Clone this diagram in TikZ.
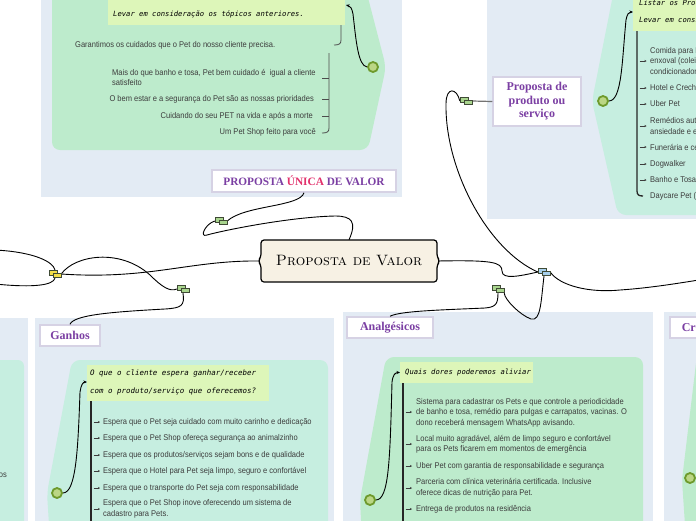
\documentclass[tikz,border=0pt]{standalone}
\usepackage{fontspec}
\usetikzlibrary{arrows.meta}
\newfontfamily\bodyf[FakeStretch=0.9]{Liberation Sans}
\newfontfamily\handf{DejaVu Sans Mono}
\newfontfamily\headf{Liberation Serif}
\definecolor{panel}{HTML}{E3EBF4}
\definecolor{greenA}{HTML}{BDEBCC}
\definecolor{greenB}{HTML}{C6EEE0}
\definecolor{yel}{HTML}{DDF6B9}
\definecolor{purp}{HTML}{7B3FA3}
\definecolor{pinkr}{HTML}{E2316C}
\definecolor{bodyc}{HTML}{3C3C3C}
\definecolor{lblb}{HTML}{D6D2E4}
\definecolor{cream}{HTML}{F7F1E4}
\definecolor{ring}{HTML}{6E9A2C}
\definecolor{ringf}{HTML}{BBD685}
\definecolor{mkg}{HTML}{A9D58E}
\definecolor{mky}{HTML}{F2DD48}
\definecolor{mkb}{HTML}{A8D0EC}
\definecolor{mko}{HTML}{3F4A35}
\tikzset{
  body/.style={font=\bodyf\fontsize{8.35}{10.4}\selectfont, text=bodyc, inner sep=0pt, align=left},
  hand/.style={font=\handf\itshape\fontsize{7.2}{17.5}\selectfont, text=black, inner sep=0pt, align=left},
  lbl/.style={draw=lblb, line width=1.5pt, fill=white, text=purp, inner sep=0pt,
     font=\headf\bfseries\fontsize{12}{13.5}\selectfont, align=center},
  conn/.style={line width=0.9pt, black},
  arr/.style={conn, -{Stealth[length=3.5pt,width=3pt]}},
  tick/.style={bodyc, line width=0.5pt, -{Stealth[length=2pt,width=2pt]}},
  brk/.style={line width=1.3pt, black!85},
  brkthin/.style={line width=0.8pt, black!70},
  dot/.style={circle, draw=ring, fill=ringf, line width=1.8pt, minimum size=10pt, inner sep=0pt},
  mk/.style={inner sep=0pt, minimum width=12pt, minimum height=8pt},
  mkline/.style={draw=mko, line width=0.6pt},
  ybox/.style={fill=yel},
}
\newcommand\mkglyph[3]{%
  \draw[mkline,fill=#3] (#1-6,#2-3.5) rectangle (#1+2,#2+1);
  \draw[mkline,fill=#3] (#1-2,#2-1) rectangle (#1+6,#2+3.5);}
\begin{document}
\begin{tikzpicture}[x=1pt,y=-1pt]
\useasboundingbox (0,0) rectangle (696,520);
% ---------- panels ----------
\fill[panel] (41,-10) rectangle (402,197);
\fill[panel] (487,-10) rectangle (700,219);
\fill[panel] (-10,318) rectangle (28,530);
\fill[panel] (35,318) rectangle (334,530);
\fill[panel] (343,312) rectangle (653,530);
\fill[panel] (664,312) rectangle (700,530);
% ---------- green areas ----------
\fill[greenA, rounded corners=8pt] (52,-10) -- (366,-10) -- (386,67) -- (368,150) -- (52,150) -- cycle;
\fill[greenB, rounded corners=8pt] (614,-10) -- (710,-10) -- (710,215) -- (618,215) -- (592,101) -- cycle;
\fill[greenB, rounded corners=6pt] (-10,360) -- (24,360) -- (24,530) -- (-10,530) -- cycle;
\fill[greenB, rounded corners=8pt] (72,360) -- (328,360) -- (328,540) -- (50,540) -- (47,493) -- cycle;
\fill[greenA, rounded corners=8pt] (386,357) -- (643,357) -- (643,540) -- (362,540) -- (360,500) -- cycle;
\fill[greenA, rounded corners=6pt] (697,355) -- (710,355) -- (710,540) -- (686,540) -- (682,480) -- cycle;
% ---------- yellow boxes ----------
\fill[ybox] (108,-10) rectangle (345,25);
\fill[ybox] (633,-10) rectangle (710,31);
\fill[ybox] (87,365) rectangle (269,401);
\fill[ybox] (400,362) rectangle (533,383);
\node[hand, anchor=west] (tlq) at (113,5.5) {Fazer o que tem que ser feito.\\Levar em consideração os tópicos anteriores.};
\node[hand, anchor=west] (trq) at (639,12) {Listar os Produtos e Serviços\\Levar em consideração os tópicos anteriores.};
\node[hand, anchor=west, font=\handf\itshape\fontsize{7.45}{18}\selectfont] (gq) at (90,382) {O que o cliente espera ganhar/receber\\com o produto/serviço que oferecemos?};
\node[hand, anchor=west] (aq) at (405,372.5) {Quais dores poderemos aliviar};
% ---------- circles ----------
\node[dot] (c1) at (373,67) {};
\node[dot] (c2) at (603,101) {};
\node[dot] (c3) at (57,493) {};
\node[dot] (c4) at (370,500) {};
\node[dot] (c5) at (690,478) {};
\draw[arr] (c1.west) .. controls (358,66) and (356,40) .. (353,14) .. controls (352,8) and (350,6) .. (346,5);
\draw[arr] (c2.east) .. controls (622,101) and (622,60) .. (626,20) .. controls (627,14) and (629,12) .. (633,12);
\draw[arr] (c3.east) .. controls (76,493) and (78,450) .. (80,392) .. controls (81,385) and (83,382) .. (87,382);
\draw[arr] (c4.east) .. controls (389,500) and (390,460) .. (392,382) .. controls (393,375) and (395,372.5) .. (400,372.5);
% ---------- top-left list ----------
\node[body, anchor=west] (g0) at (75,45) {Garantimos os cuidados que o Pet do nosso cliente precisa.};
\node[body, anchor=west] (g1) at (112,77.5) {Mais do que banho e tosa, Pet bem cuidado é\ \ igual a cliente\\satisfeito};
\node[body, anchor=east] (g2) at (314,99) {O bem estar e a segurança do Pet são as nossas prioridades};
\node[body, anchor=east] (g3) at (313,116) {Cuidando do seu PET na vida e após a morte};
\node[body, anchor=east] (g4) at (316,132) {Um Pet Shop feito para você};
\draw[brkthin] (341,25) -- (341,40) .. controls (341,44) and (339,45) .. (334,45);
\draw[brkthin] (329,53) -- (329,128) .. controls (329,132) and (327,133) .. (322,133);
\foreach \yy in {78,99,116} \draw[brkthin] (322,\yy) -- (329,\yy);
% ---------- top-right list ----------
\node[body, anchor=west] (p1) at (650,61) {Comida para Pets e\\enxoval (coleiras,\\condicionador};
\node[body, anchor=west] (p2) at (650,88) {Hotel e Creche};
\node[body, anchor=west] (p3) at (650,104) {Uber Pet};
\node[body, anchor=west] (p4) at (650,126) {Remédios autorizados\\ansiedade e estresse};
\node[body, anchor=west] (p5) at (650,147) {Funerária e cemitério};
\node[body, anchor=west] (p6) at (650,164) {Dogwalker};
\node[body, anchor=west] (p7) at (650,180) {Banho e Tosa};
\node[body, anchor=west] (p8) at (650,196) {Daycare Pet (adestramento)};
\draw[brk] (637,31) -- (637,191) .. controls (637,195) and (639,196) .. (643,196);
\foreach \yy in {61,88,104,126,147,164,180} \draw[tick] (639.5,\yy) -- (646.5,\yy);
% ---------- Ganhos list ----------
\node[body, anchor=west] (e1) at (103,422) {Espera que o Pet seja cuidado com muito carinho e dedicação};
\node[body, anchor=west] (e2) at (103,438) {Espera que o Pet Shop ofereça segurança ao animalzinho};
\node[body, anchor=west] (e3) at (103,455) {Espera que os produtos/serviços sejam bons e de qualidade};
\node[body, anchor=west] (e4) at (103,471) {Espera que o Hotel para Pet seja limpo, seguro e confortável};
\node[body, anchor=west] (e5) at (103,488) {Espera que o transporte do Pet seja com responsabilidade};
\node[body, anchor=west] (e6) at (103,509) {Espera que o Pet Shop inove oferecendo um sistema de\\cadastro para Pets.};
\draw[brk] (91,401) -- (91,530);
\foreach \yy in {422,438,455,471,488,509} \draw[tick] (93.5,\yy) -- (100,\yy);
% ---------- Analgesicos list ----------
\node[body, anchor=west] (a1) at (416,412.5) {Sistema para cadastrar os Pets e que controle a periodicidade\\de banho e tosa, remédio para pulgas e carrapatos, vacinas. O\\dono receberá mensagem WhatsApp avisando.};
\node[body, anchor=west] (a2) at (416,444) {Local muito agradável, além de limpo seguro e confortável\\para os Pets ficarem em momentos de emergência};
\node[body, anchor=west] (a3) at (416,466) {Uber Pet com garantia de responsabilidade e segurança};
\node[body, anchor=west] (a4) at (416,488) {Parceria com clínica veterinária certificada. Inclusive\\oferece dicas de nutrição para Pet.};
\node[body, anchor=west] (a5) at (416,509) {Entrega de produtos na residência};
\draw[brk] (403,383) -- (403,530);
\foreach \yy in {412,444,466,488,509} \draw[tick] (405.5,\yy) -- (412,\yy);
% ---------- far-left fragment ----------
\node[body, anchor=east] (fl) at (7,475) {os};
% ---------- labels ----------
\node[lbl, minimum width=184pt, minimum height=22pt, font=\headf\bfseries\fontsize{11.3}{12}\selectfont] (puv) at (304,181) {PROPOSTA \textcolor{pinkr}{ÚNICA} DE VALOR};
\node[lbl, minimum width=88pt, minimum height=49pt] (pps) at (537,101.5) {Proposta de\\produto ou\\serviço};
\node[lbl, minimum width=60pt, minimum height=21pt] (gan) at (70,335.5) {Ganhos};
\node[lbl, minimum width=86pt, minimum height=21pt] (ana) at (390,327.5) {Analgésicos};
\node[lbl, minimum height=21pt, anchor=west, text width=120pt, align=left, inner xsep=12pt] (cri) at (669,327.5) {Criadores de Ganho};
% ---------- markers (positions) ----------
\node[mk] (ym) at (55,274) {};
\node[mk] (gm1) at (183,289) {};
\node[mk] (gm2) at (221,221) {};
\node[mk] (gm3) at (466,101) {};
\node[mk] (bm) at (544,272) {};
\node[mk] (gm4) at (498,289) {};
\node[mk] (pv) at (349,261) [minimum width=176pt, minimum height=42pt] {};
\coordinate (le1) at (-5,250);
\coordinate (le2) at (-5,284);
\coordinate (re1) at (705,279);
% ---------- connectors ----------
\draw[conn] (pv.west) .. controls (190,260) and (150,280) .. (ym.east);
\draw[conn] (ym.north) .. controls (53,262) and (35,252) .. (le1);
\draw[conn] (ym.south) .. controls (53,285) and (35,288) .. (le2);
\draw[conn] (ym.east) .. controls (75,255) and (120,248) .. (150,275) .. controls (162,287) and (170,292) .. (gm1.west);
\draw[conn] (gm1.south) .. controls (185,306) and (181,308) .. (165,309) .. controls (110,312) and (74,315) .. (gan.north);
\draw[conn] (pv.north) .. controls (357,222) and (352,216) .. (335,216) .. controls (290,217) and (225,230) .. (207,235) .. controls (199,238) and (205,224) .. (gm2.west);
\draw[conn] (gm2.east) .. controls (245,205) and (300,207) .. (puv.south);
\draw[conn] (pv.east) .. controls (492,260) and (502,262) .. (502,271) .. controls (502,280) and (520,276) .. (bm.west);
\draw[conn] (bm.west) .. controls (488,250) and (445,170) .. (446,104) .. controls (446,86) and (457,88) .. (gm3.west);
\draw[line width=1.2pt, black!55] (gm3.east) -- (pps.west);
\draw[conn] (bm.east) .. controls (560,286) and (590,293) .. (620,290) .. controls (650,288) and (680,283) .. (re1);
\draw[conn] (bm.south) .. controls (541,300) and (541,322) .. (531,319) .. controls (520,315) and (505,300) .. (gm4.south east);
\draw[conn] (gm4.south) .. controls (498,305) and (495,307) .. (485,308) .. controls (440,310) and (400,311) .. (ana.north);
% ---------- central node ----------
\draw[line width=1.2pt, fill=cream, rounded corners=3pt] (261,240) -- (437,240) -- (437,257) -- (440,261) -- (437,265) -- (437,282) -- (261,282) -- (261,265) -- (258,261) -- (261,257) -- cycle;
\node[font=\rmfamily\scshape\fontsize{15}{18}\selectfont] (pvt) at (pv) {Proposta de Valor};
% ---------- marker glyphs ----------
\mkglyph{55}{274}{mky}
\mkglyph{183}{289}{mkg}
\mkglyph{221}{221}{mkg}
\mkglyph{466}{101}{mkg}
\mkglyph{544}{272}{mkb}
\mkglyph{498}{289}{mkg}
\end{tikzpicture}
\end{document}
